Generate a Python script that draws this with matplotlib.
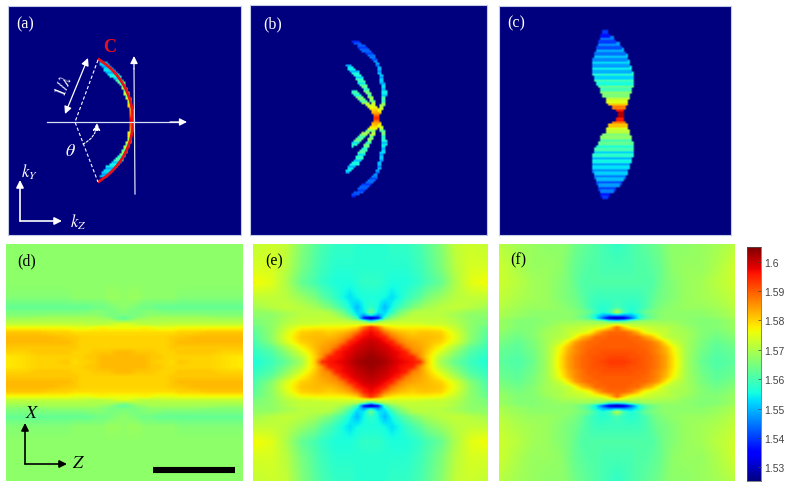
import numpy as np
import matplotlib
matplotlib.use('Agg')
import matplotlib.pyplot as plt

plt.rcParams['font.family'] = ['Liberation Serif', 'DejaVu Serif']
plt.rcParams['mathtext.fontset'] = 'stix'

W, H = 787, 489

# offsets from panel centre (px of the reference), one quadrant only, panels are symmetric
z_nodes = [0, 7, 14, 21, 28, 35, 42, 49, 56, 70, 85, 100, 118]
x_nodes = [0, 5, 10, 15, 20, 25, 30, 35, 38, 41, 44, 47, 50, 55, 65, 80, 95, 118]

# index minus 1.5, in thousandths
panel_d = [
    [82, 82, 82, 82, 81, 80, 80, 79, 81, 80, 80, 79, 78],
    [82, 82, 82, 82, 81, 81, 80, 80, 80, 80, 80, 79, 78],
    [82, 82, 81, 81, 81, 80, 80, 80, 81, 81, 81, 80, 80],
    [80, 80, 80, 80, 80, 80, 80, 81, 81, 81, 81, 81, 81],
    [80, 80, 80, 80, 80, 80, 80, 81, 82, 82, 82, 82, 82],
    [80, 80, 80, 80, 80, 80, 80, 81, 81, 82, 82, 82, 82],
    [79, 79, 79, 79, 79, 79, 79, 79, 80, 80, 81, 81, 81],
    [76, 76, 76, 77, 76, 75, 75, 75, 76, 76, 76, 76, 76],
    [75, 74, 72, 71, 71, 71, 72, 72, 72, 72, 72, 72, 72],
    [68, 69, 70, 70, 70, 70, 70, 70, 70, 70, 70, 70, 70],
    [62, 64, 67, 68, 69, 69, 69, 69, 69, 69, 69, 68, 68],
    [65, 65, 65, 66, 67, 67, 67, 67, 67, 67, 66, 66, 66],
    [66, 65, 65, 66, 66, 66, 65, 65, 65, 65, 65, 65, 65],
    [67, 66, 65, 64, 64, 63, 63, 63, 63, 63, 63, 63, 63],
    [67, 68, 68, 67, 67, 67, 67, 67, 66, 66, 66, 66, 66],
    [67, 67, 67, 67, 67, 67, 67, 67, 67, 67, 67, 67, 67],
    [67, 67, 67, 67, 67, 67, 67, 67, 67, 67, 67, 67, 67],
    [67, 67, 67, 67, 67, 67, 67, 67, 67, 67, 67, 67, 67],
]
panel_e = [
    [103, 103, 102, 100, 98, 97, 96, 94, 81, 69, 63, 59, 56],
    [103, 102, 101, 99, 97, 96, 95, 86, 80, 71, 65, 60, 57],
    [102, 101, 100, 98, 97, 95, 87, 85, 81, 74, 67, 61, 58],
    [101, 100, 99, 97, 95, 88, 85, 84, 82, 77, 70, 63, 59],
    [100, 99, 97, 95, 88, 85, 84, 83, 82, 80, 74, 66, 60],
    [98, 97, 95, 88, 85, 83, 82, 82, 82, 81, 75, 67, 61],
    [97, 95, 88, 84, 82, 81, 80, 81, 81, 80, 74, 67, 62],
    [94, 88, 80, 78, 77, 77, 77, 77, 77, 76, 72, 67, 63],
    [76, 74, 74, 74, 74, 74, 74, 74, 73, 73, 71, 67, 65],
    [56, 66, 70, 71, 72, 72, 72, 72, 72, 72, 70, 67, 65],
    [28, 36, 60, 66, 69, 71, 72, 72, 72, 72, 70, 67, 66],
    [55, 48, 54, 62, 66, 69, 71, 71, 71, 71, 69, 67, 67],
    [64, 54, 52, 58, 64, 67, 70, 71, 71, 71, 70, 68, 67],
    [58, 55, 50, 55, 59, 62, 65, 67, 69, 71, 72, 71, 69],
    [56, 56, 55, 53, 55, 58, 60, 62, 65, 68, 71, 72, 72],
    [58, 58, 57, 56, 56, 56, 57, 58, 60, 63, 70, 75, 77],
    [57, 57, 57, 57, 57, 57, 58, 59, 61, 65, 71, 74, 74],
    [57, 57, 57, 58, 58, 58, 59, 60, 62, 66, 72, 73, 72],
]
panel_f = [
    [93, 93, 92, 91, 90, 89, 87, 84, 79, 69, 63, 61, 62],
    [92, 92, 91, 91, 90, 89, 87, 84, 79, 69, 64, 61, 63],
    [91, 91, 91, 90, 90, 88, 86, 83, 78, 69, 64, 62, 63],
    [90, 90, 90, 90, 89, 88, 86, 82, 77, 69, 65, 62, 64],
    [90, 90, 90, 89, 89, 87, 84, 78, 73, 69, 65, 63, 65],
    [90, 90, 89, 89, 85, 82, 76, 72, 71, 69, 66, 64, 66],
    [89, 89, 87, 82, 76, 74, 73, 72, 70, 69, 66, 65, 67],
    [88, 80, 75, 74, 73, 72, 71, 71, 70, 68, 66, 66, 68],
    [74, 72, 71, 70, 70, 70, 70, 69, 69, 67, 66, 66, 68],
    [58, 60, 65, 67, 68, 68, 68, 68, 68, 67, 66, 66, 68],
    [28, 31, 42, 54, 61, 64, 66, 67, 67, 67, 66, 67, 69],
    [50, 48, 50, 55, 61, 64, 66, 67, 67, 67, 67, 68, 70],
    [72, 60, 56, 59, 63, 65, 66, 67, 67, 67, 67, 68, 70],
    [60, 58, 57, 58, 60, 63, 65, 66, 67, 68, 68, 69, 71],
    [59, 59, 59, 59, 60, 62, 64, 65, 66, 68, 69, 70, 72],
    [61, 61, 61, 61, 61, 61, 63, 65, 66, 68, 69, 71, 73],
    [60, 60, 60, 61, 61, 62, 63, 65, 67, 68, 68, 70, 73],
    [58, 59, 60, 61, 62, 63, 64, 66, 67, 67, 68, 69, 71],
]

# (c) lobe, one row per ky step: distance from waist, left/right edge, jet fraction
c_rows = [2, 5, 8, 11, 14, 17, 20, 23, 26, 29, 32, 35, 38, 41, 44, 47, 50, 53, 56, 59, 62, 65, 68, 71, 74, 77, 80, 83]
c_left = [-2, -4, -8, -11, -13, -14, -17, -19, -20, -22, -24, -25, -26, -27, -28, -28, -28, -28, -27, -26, -25, -24, -23, -22, -21, -20, -19, -18]
c_right = [2, 3, 4, 6, 7, 8, 9, 10, 11, 12, 12, 12, 13, 12, 11, 10, 9, 8, 7, 6, 4, 2, 1, -2, -5, -8, -12, -14]
c_value = [.95, .88, .78, .7, .62, .58, .5, .52, .43, .47, .38, .43, .33, .4, .3, .37, .28, .35, .26, .33, .24, .31, .2, .28, .18, .25, .14, .18]

# (b) petals: kz offset, ky offset, width in px, jet fraction
outer_z = [0, 2, 6, 8, 5, 2, -2, -11, -17, -23]
outer_y = [0, 5, 13, 25, 40, 52, 60, 68, 74, 78]
outer_w = [2, 2, 2, 3.5, 1.5, 1.5, 2.5, 5, 4, 2]
outer_v = [.9, .7, .55, .37, .33, .3, .25, .22, .22, .2]
middle_z = [0, 0, -3, -7, -16, -22, -30]
middle_y = [0, 5, 14, 23, 38, 47, 54]
middle_w = [2, 2, 2, 2.5, 5, 5, 2]
middle_v = [.92, .75, .6, .52, .42, .37, .35]
inner_z = [0, -1, -7, -14, -19, -24]
inner_y = [0, 5, 12, 18, 23, 28]
inner_w = [3, 2.5, 3, 4, 4, 1.5]
inner_v = [.92, .75, .62, .52, .47, .4]

# (a) cap and the circle C
cap_z = [0, -1, -4, -10, -15, -21, -29]
cap_y = [0, 6, 22, 36, 42, 47, 57]
cap_w = [2, 1.5, 2, 3, 6, 8, 5]
cap_v = [.95, .8, .6, .5, .4, .36, .33]
arc_z = [-34, -25.7, -20.3, -15.9, -12.2, -9.1, -6.6, -4.5, -2.8, -1.6, -.7, -.2, 0]
arc_y = [61, 55, 50, 45, 40, 35, 30, 25, 20, 15, 10, 5, 0]

bar_ticks = [1.53, 1.54, 1.55, 1.56, 1.57, 1.58, 1.59, 1.6]
bar_labels = ['1.53', '1.54', '1.55', '1.56', '1.57', '1.58', '1.59', '1.6']
vmin, vmax = 1.5254, 1.605
cell = 2


def make_axes(left, top, right, bottom):
    # axes limits are reference pixels, so annotations are easy to place
    ax = fig.add_axes([left / W, 1 - bottom / H, (right - left) / W, (bottom - top) / H])
    ax.set_xlim(left, right)
    ax.set_ylim(bottom, top)
    ax.set_xticks([])
    ax.set_yticks([])
    return ax


def heatmap(ax, values, cx, cy):
    left, right = ax.get_xlim()
    bottom, top = ax.get_ylim()
    px = np.arange(left, right + 1)
    py = np.arange(top, bottom + 1)
    vals = 1.5 + np.array(values) / 1000
    rows = np.array([np.interp(np.abs(px - cx), z_nodes, r) for r in vals])
    full = np.array([np.interp(np.abs(py - cy), x_nodes, rows[:, i]) for i in range(len(px))]).T
    ax.imshow(full, cmap='jet', vmin=vmin, vmax=vmax, extent=[left, right, bottom, top],
              aspect='auto', interpolation='bilinear')
    ax.set_xlim(left, right)
    ax.set_ylim(bottom, top)
    for s in ax.spines.values():
        s.set_visible(False)


def dark_panel(ax):
    for s in ax.spines.values():
        s.set_color('#c4cbe6')
        s.set_linewidth(0.8)
    ax.set_facecolor(plt.cm.jet(0.0))


def new_canvas(ax):
    left, right = ax.get_xlim()
    bottom, top = ax.get_ylim()
    return np.zeros((int((bottom - top) / cell) + 1, int((right - left) / cell) + 1))


def show_canvas(ax, canvas):
    left, right = ax.get_xlim()
    bottom, top = ax.get_ylim()
    ax.imshow(canvas, cmap='jet', vmin=0, vmax=1, extent=[left, right, bottom, top],
              aspect='auto', interpolation='bilinear')
    ax.set_xlim(left, right)
    ax.set_ylim(bottom, top)


def petal(ax, canvas, cx, cy, zs, ys, widths, values):
    # walks along the nodes and fills the cells, every other row a bit darker like the scan lines
    left = ax.get_xlim()[0]
    top = ax.get_ylim()[1]
    for sign in [-1, 1]:
        for i in range(len(zs) - 1):
            for t in np.linspace(0, 1, 30):
                z = zs[i] + t * (zs[i + 1] - zs[i])
                y = ys[i] + t * (ys[i + 1] - ys[i])
                w = widths[i] + t * (widths[i + 1] - widths[i])
                v = values[i] + t * (values[i + 1] - values[i])
                r = int((cy + sign * y - top) / cell)
                shade = 0.82 if r % 3 == 0 and y > 12 else 1.0
                a = int((cx + z - w * 0.5 - left) / cell)
                b = int((cx + z + w * 0.5 - left) / cell) + 1
                canvas[r, a:b] = v * shade


def arrow(ax, start, end, color='white', lw=1.0, style='-|>', ls='-', rad=0):
    ax.annotate('', xy=end, xytext=start,
                arrowprops=dict(arrowstyle=style, color=color, lw=lw, ls=ls, shrinkA=0, shrinkB=0,
                                mutation_scale=11, connectionstyle='arc3,rad=%g' % rad))


fig = plt.figure(figsize=(W / 100, H / 100), dpi=100)

# (a)
ax_a = make_axes(8, 7, 241, 236)
dark_panel(ax_a)
canvas = new_canvas(ax_a)
petal(ax_a, canvas, 133, 121.5, cap_z, cap_y, cap_w, cap_v)
show_canvas(ax_a, canvas)
arc_px = 133 + np.array(arc_z + arc_z[-2::-1])
arc_py = 121.5 + np.array(arc_y + [-v for v in arc_y[-2::-1]])
ax_a.plot(arc_px, arc_py, color='#e8101a', lw=2.0)
ax_a.plot([47, 180], [123, 123], color='#d8e0f4', lw=0.9)
arrow(ax_a, (170, 123), (187, 123), lw=0.9)
ax_a.plot([135, 134], [195, 70], color='#d8e0f4', lw=0.9)
arrow(ax_a, (134, 70), (134, 57), lw=0.9)
ax_a.plot([98, 75, 98], [61, 123, 183], color='white', lw=0.8, ls=(0, (3, 2)))
arrow(ax_a, (88, 59), (65, 115), lw=0.9, style='<|-|>')
arrow(ax_a, (83, 145), (97, 124), lw=0.8, ls=(0, (2, 1.5)), rad=0.3)
arrow(ax_a, (20, 222), (20, 181), lw=1.2)
arrow(ax_a, (20, 222), (62, 222), lw=1.2)
ax_a.text(65, 87, r'$1/\lambda$', color='white', fontsize=12, rotation=68, ha='center', va='center')
ax_a.text(70, 152, r'$\theta$', color='white', fontsize=13, ha='center', va='center')
ax_a.text(110, 48, 'C', color='#e8101a', fontsize=13, fontweight='bold', ha='center', va='center')
ax_a.text(29, 172, r'$k_Y$', color='white', fontsize=12, ha='center', va='center')
ax_a.text(78, 222, r'$k_Z$', color='white', fontsize=12, ha='center', va='center')
ax_a.text(25, 24, '(a)', color='white', fontsize=11.5, ha='center', va='center')

# (b)
ax_b = make_axes(250, 6, 487, 236)
dark_panel(ax_b)
canvas = new_canvas(ax_b)
petal(ax_b, canvas, 377, 120, outer_z, outer_y, outer_w, outer_v)
petal(ax_b, canvas, 377, 120, middle_z, middle_y, middle_w, middle_v)
petal(ax_b, canvas, 377, 120, inner_z, inner_y, inner_w, inner_v)
show_canvas(ax_b, canvas)
ax_b.text(273, 24, '(b)', color='white', fontsize=11.5, ha='center', va='center')

# (c)
ax_c = make_axes(499, 7, 731, 236)
dark_panel(ax_c)
canvas = new_canvas(ax_c)
for d, l, r, v in zip(c_rows, c_left, c_right, c_value):
    for sign in [-1, 1]:
        row = int((115.5 + sign * d - 7) / cell)
        a = int((621 + l - 499) / cell)
        b = int((621 + r - 499) / cell) + 1
        canvas[row, a:b] = v
        canvas[row + 1, a:b] = v
show_canvas(ax_c, canvas)
ax_c.text(516, 23, '(c)', color='white', fontsize=11.5, ha='center', va='center')

# (d)
ax_d = make_axes(6, 245, 242, 482)
heatmap(ax_d, panel_d, 123, 363)
arrow(ax_d, (25, 465), (25, 424), color='black', lw=1.2)
arrow(ax_d, (25, 465), (67, 465), color='black', lw=1.2)
ax_d.plot([153, 235], [471, 471], color='black', lw=4.4, solid_capstyle='butt')
ax_d.text(32, 414, r'$X$', fontsize=13, ha='center', va='center')
ax_d.text(79, 464, r'$Z$', fontsize=13, ha='center', va='center')
ax_d.text(27, 261, '(d)', color='black', fontsize=11.5, ha='center', va='center')

# (e)
ax_e = make_axes(253, 245, 488, 482)
heatmap(ax_e, panel_e, 371, 363)
ax_e.text(274, 261, '(e)', color='black', fontsize=11.5, ha='center', va='center')

# (f)
ax_f = make_axes(499, 245, 735, 482)
heatmap(ax_f, panel_f, 617, 363)
ax_f.text(518, 260, '(f)', color='black', fontsize=11.5, ha='center', va='center')

# colour bar
ax_bar = fig.add_axes([747 / W, 1 - 482 / H, 14 / W, 234 / H])
ramp = np.linspace(vmin, vmax, 256)[:, None]
ax_bar.imshow(ramp, cmap='jet', origin='lower', aspect='auto', extent=[0, 1, vmin, vmax])
ax_bar.set_xticks([])
ax_bar.yaxis.tick_right()
ax_bar.set_yticks(bar_ticks)
ax_bar.set_yticklabels(bar_labels, family=['Liberation Sans'], fontsize=7.5, color='#444444')
ax_bar.tick_params(axis='y', direction='in', length=2, width=0.5, pad=2, color='#444444')
for s in ax_bar.spines.values():
    s.set_linewidth(0.5)
    s.set_color('#555555')

fig.savefig('out.png', dpi=100)
